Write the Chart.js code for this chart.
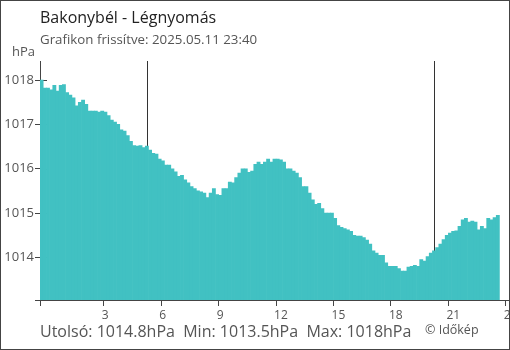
<!DOCTYPE html>
<html lang="hu">
<head>
<meta charset="utf-8">
<title>Bakonybél - Légnyomás</title>
<script src="https://cdn.jsdelivr.net/npm/chart.js@4.4.1/dist/chart.umd.min.js"></script>
<style>
    html, body { margin: 0; padding: 0; background: #fff; }
    #box { position: relative; width: 510px; height: 350px; overflow: hidden; font-family: 'Open Sans', sans-serif; }
    #box canvas { position: absolute; left: 0; top: 0; }
    #frame { position: absolute; left: 0; top: 0; width: 510px; height: 350px; box-sizing: border-box; border: 1px solid #444; pointer-events: none; }
    .txt { position: absolute; white-space: pre; line-height: 1; }
    #title { left: 40px; top: 9px; font-size: 16px; color: #222; }
    #subtitle { left: 40px; top: 33.3px; font-size: 13.3px; color: #555; }
    #unit { left: 12px; top: 45px; font-size: 13px; color: #555; }
    #stats { left: 40px; top: 322.5px; font-size: 16px; color: #555; }
    #copy { left: 425px; top: 324px; font-size: 12.5px; color: #555; }
</style>
</head>
<body>
<div id="box">
    <canvas id="pressureChart" width="510" height="350"></canvas>
    <div class="txt" id="title">Bakonybél - Légnyomás</div>
    <div class="txt" id="subtitle">Grafikon frissítve: 2025.05.11 23:40</div>
    <div class="txt" id="unit">hPa</div>
    <div class="txt" id="stats">Utolsó: 1014.8hPa  Min: 1013.5hPa  Max: 1018hPa</div>
    <div class="txt" id="copy">© Időkép</div>
    <div id="frame"></div>
</div>
<script>
// 10-minute readings, first one at 23:40 of the previous day (-20 min)
const startMinute = -20;
const stepMinutes = 10;
const pressure = [
    1018.0, 1017.82, 1017.82, 1017.78, 1017.88, 1017.75, 1017.88, 1017.9, 1017.72, 1017.66,
    1017.6, 1017.42, 1017.5, 1017.55, 1017.45, 1017.3, 1017.3, 1017.3, 1017.28, 1017.3,
    1017.28, 1017.2, 1017.1, 1017.05, 1017.0, 1016.88, 1016.85, 1016.75, 1016.62, 1016.52,
    1016.51, 1016.52, 1016.48, 1016.51, 1016.42, 1016.35, 1016.33, 1016.22, 1016.18, 1016.08,
    1016.08, 1016.0, 1015.93, 1015.83, 1015.85, 1015.75, 1015.68, 1015.6, 1015.55, 1015.5,
    1015.48, 1015.45, 1015.35, 1015.45, 1015.55, 1015.42, 1015.4, 1015.55, 1015.55, 1015.7,
    1015.68, 1015.8, 1015.9, 1016.0, 1016.0, 1015.92, 1015.95, 1016.1, 1016.15, 1016.1,
    1016.15, 1016.22, 1016.15, 1016.22, 1016.22, 1016.2, 1016.15, 1016.0, 1016.0, 1015.95,
    1015.9, 1015.8, 1015.6, 1015.6, 1015.45, 1015.3, 1015.2, 1015.22, 1015.1, 1015.0,
    1015.0, 1015.0, 1014.88, 1014.72, 1014.68, 1014.65, 1014.62, 1014.59, 1014.5, 1014.48,
    1014.48, 1014.45, 1014.39, 1014.3, 1014.15, 1014.1, 1014.05, 1014.05, 1013.88, 1013.8,
    1013.8, 1013.8, 1013.75, 1013.69, 1013.69, 1013.78, 1013.8, 1013.82, 1013.8, 1013.95,
    1013.92, 1014.02, 1014.1, 1014.15, 1014.22, 1014.3, 1014.4, 1014.5, 1014.55, 1014.59,
    1014.6, 1014.7, 1014.85, 1014.88, 1014.8, 1014.82, 1014.8, 1014.62, 1014.7, 1014.65,
    1014.88, 1014.85, 1014.9, 1014.95
];

// x axis in minutes since midnight
const xTickMinutes = [-20, 180, 360, 540, 720, 900, 1080, 1260, 1440];
const xTickLabels = ['', '3', '6', '9', '12', '15', '18', '21', '24'];
const yTicks = [1013.04, 1014, 1015, 1016, 1017, 1018];
const yMin = 1013.04;
const yMax = 1018.43;

// sunrise / sunset markers (minutes)
const sunMarks = [316, 1215];

const barColor = '#41c1c2';
const axisColor = '#444';
const labelColor = '#555';

Chart.defaults.font.family = "'Open Sans', sans-serif";

const points = pressure.map((v, i) => ({ x: startMinute + i * stepMinutes + stepMinutes / 2, y: v }));

const sunLinesPlugin = {
    id: 'sunLines',
    beforeDatasetsDraw(chart) {
        const { ctx, chartArea, scales } = chart;
        ctx.save();
        ctx.strokeStyle = '#333';
        ctx.lineWidth = 1;
        sunMarks.forEach(t => {
            const x = Math.round(scales.x.getPixelForValue(t)) + 0.5;
            ctx.beginPath();
            ctx.moveTo(x, chartArea.top);
            ctx.lineTo(x, chartArea.bottom);
            ctx.stroke();
        });
        // inner half of the y tick marks
        ctx.strokeStyle = axisColor;
        yTicks.forEach(v => {
            const y = Math.round(scales.y.getPixelForValue(v)) + 0.5;
            ctx.beginPath();
            ctx.moveTo(chartArea.left, y);
            ctx.lineTo(chartArea.left + 7, y);
            ctx.stroke();
        });
        ctx.restore();
    }
};

new Chart(document.getElementById('pressureChart'), {
    type: 'bar',
    data: {
        datasets: [{
            label: 'Légnyomás',
            data: points,
            backgroundColor: barColor,
            borderWidth: 0,
            barPercentage: 1,
            categoryPercentage: 1
        }]
    },
    options: {
        responsive: false,
        animation: false,
        layout: { padding: { top: 61, right: 1, bottom: 0, left: 0 } },
        plugins: {
            legend: { display: false },
            tooltip: { enabled: false }
        },
        scales: {
            x: {
                type: 'linear',
                offset: false,
                min: -20,
                max: 1450,
                afterBuildTicks: scale => { scale.ticks = xTickMinutes.map(v => ({ value: v })); },
                afterFit: scale => { scale.height = 50; scale.paddingLeft = 0; scale.paddingRight = 0; },
                grid: { drawOnChartArea: false, offset: false, tickLength: 6, color: axisColor },
                border: { color: axisColor },
                ticks: {
                    color: labelColor,
                    font: { size: 12 },
                    padding: 2,
                    align: 'start',
                    labelOffset: -2,
                    maxRotation: 0,
                    autoSkip: false,
                    callback: v => xTickLabels[xTickMinutes.indexOf(v)]
                }
            },
            y: {
                min: yMin,
                max: yMax,
                afterBuildTicks: scale => { scale.ticks = yTicks.map(v => ({ value: v })); },
                afterFit: scale => { scale.width = 40; scale.paddingTop = 0; scale.paddingBottom = 0; },
                grid: { drawOnChartArea: false, tickLength: 5, color: axisColor },
                border: { color: axisColor },
                ticks: {
                    color: labelColor,
                    font: { size: 13 },
                    padding: 1,
                    autoSkip: false,
                    callback: v => Number.isInteger(v) ? String(v) : ''
                }
            }
        }
    },
    plugins: [sunLinesPlugin]
});
</script>
</body>
</html>
